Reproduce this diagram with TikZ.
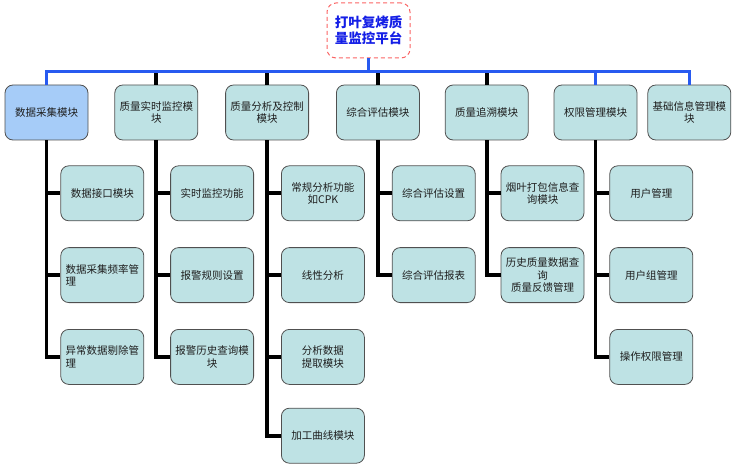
\documentclass[tikz,border=0pt]{standalone}
\usepackage{fontspec}
\setmainfont{Noto Sans CJK SC}
\usepackage{xcolor}
\usepackage{tikz}
\usetikzlibrary{positioning}
\definecolor{BusBlue}  {RGB}{40, 90, 240}
\definecolor{TitleBlue}{RGB}{20, 30, 230}
\definecolor{RootRed}  {RGB}{250,100,100}
\definecolor{BoxCyan}  {RGB}{190,226,228}
\definecolor{BoxBlue}  {RGB}{166,204,248}
\definecolor{BoxEdge}  {RGB}{80, 80, 80}
\definecolor{TextDark} {RGB}{30, 30, 30}

\begin{document}
\begin{tikzpicture}[font=\fontsize{10.5}{12.5}\selectfont,
  box/.style={draw=BoxEdge,fill=BoxCyan,text=TextDark,rounded corners=8pt,minimum width=83pt,minimum height=55pt,inner sep=3pt,align=center,line width=0.8pt},
  tree/.style={line width=3.8pt,black},
  busline/.style={line width=3pt,BusBlue}]
  \useasboundingbox (0,0) rectangle (735pt,-470pt);
  \coordinate (bus) at (0,-72pt);
  % root
  \node[draw=RootRed,dashed,dash pattern=on 4pt off 3pt,rounded corners=9pt,line width=1pt,minimum width=83pt,minimum height=55pt,text=TitleBlue,align=center,font=\fontsize{13.5}{16}\selectfont\bfseries] (root) at (368.5pt,-30.5pt) {打叶复烤质\\量监控平台};
  % modules
  \node[box,fill=BoxBlue] (cj) at (46.5pt,-112.5pt) {数据采集模块};
  \node[box,right=26pt of cj] (ss) {质量实时监控模\\块};
  \node[box,right=27pt of ss] (fx) {质量分析及控制\\模块};
  \node[box,right=27pt of fx] (pg) {综合评估模块};
  \node[box,right=25pt of pg] (zs) {质量追溯模块};
  \node[box,right=25pt of zs] (qx) {权限管理模块};
  \node[box,right=10pt of qx] (jc) {基础信息管理模\\块};
  % sub modules
  \node[box,align=left,below right=25pt and -28pt of cj] (cj1) {数据接口模块};
  \node[box,align=left,below=26pt of cj1] (cj2) {数据采集频率管\\理};
  \node[box,align=left,below=26pt of cj2] (cj3) {异常数据剔除管\\理};
  \node[box,below right=25pt and -28pt of ss] (ss1) {实时监控功能};
  \node[box,below=26pt of ss1] (ss2) {报警规则设置};
  \node[box,below=26pt of ss2] (ss3) {报警历史查询模\\块};
  \node[box,below right=25pt and -28pt of fx] (fx1) {常规分析功能\\如CPK};
  \node[box,below=26pt of fx1] (fx2) {线性分析};
  \node[box,below=26pt of fx2] (fx3) {分析数据\\提取模块};
  \node[box,below=23pt of fx3] (fx4) {加工曲线模块};
  \node[box,below right=25pt and -28pt of pg] (pg1) {综合评估设置};
  \node[box,below=26pt of pg1] (pg2) {综合评估报表};
  \node[box,below right=25pt and -28pt of zs] (zs1) {烟叶打包信息查\\询模块};
  \node[box,below=26pt of zs1] (zs2) {历史质量数据查\\询\\质量反馈管理};
  \node[box,below right=25pt and -28pt of qx] (qx1) {用户管理};
  \node[box,below=26pt of qx1] (qx2) {用户组管理};
  \node[box,below=26pt of qx2] (qx3) {操作权限管理};
  % top connectors
  \draw[tree] (ss.north) -- (ss.north |- bus);
  \draw[tree] (fx.north) -- (fx.north |- bus);
  \draw[tree] (pg.north) -- (pg.north |- bus);
  \draw[tree] (zs.north) -- (zs.north |- bus);
  \draw[busline] (root.south) -- (root.south |- bus);
  \draw[busline] (cj.north) -- (cj.north |- bus) -| (jc.north);
  \draw[busline] (qx.north) -- (qx.north |- bus);
  % sub connectors
  \draw[tree] (cj.south) |- (cj1.west);
  \draw[tree] (cj.south) |- (cj2.west);
  \draw[tree] (cj.south) |- (cj3.west);
  \draw[tree] (ss.south) |- (ss1.west);
  \draw[tree] (ss.south) |- (ss2.west);
  \draw[tree] (ss.south) |- (ss3.west);
  \draw[tree] (fx.south) |- (fx1.west);
  \draw[tree] (fx.south) |- (fx2.west);
  \draw[tree] (fx.south) |- (fx3.west);
  \draw[tree] (fx.south) |- (fx4.west);
  \draw[tree] (pg.south) |- (pg1.west);
  \draw[tree] (pg.south) |- (pg2.west);
  \draw[tree] (zs.south) |- (zs1.west);
  \draw[tree] (zs.south) |- (zs2.west);
  \draw[tree] (qx.south) |- (qx1.west);
  \draw[tree] (qx.south) |- (qx2.west);
  \draw[tree] (qx.south) |- (qx3.west);
\end{tikzpicture}
\end{document}
